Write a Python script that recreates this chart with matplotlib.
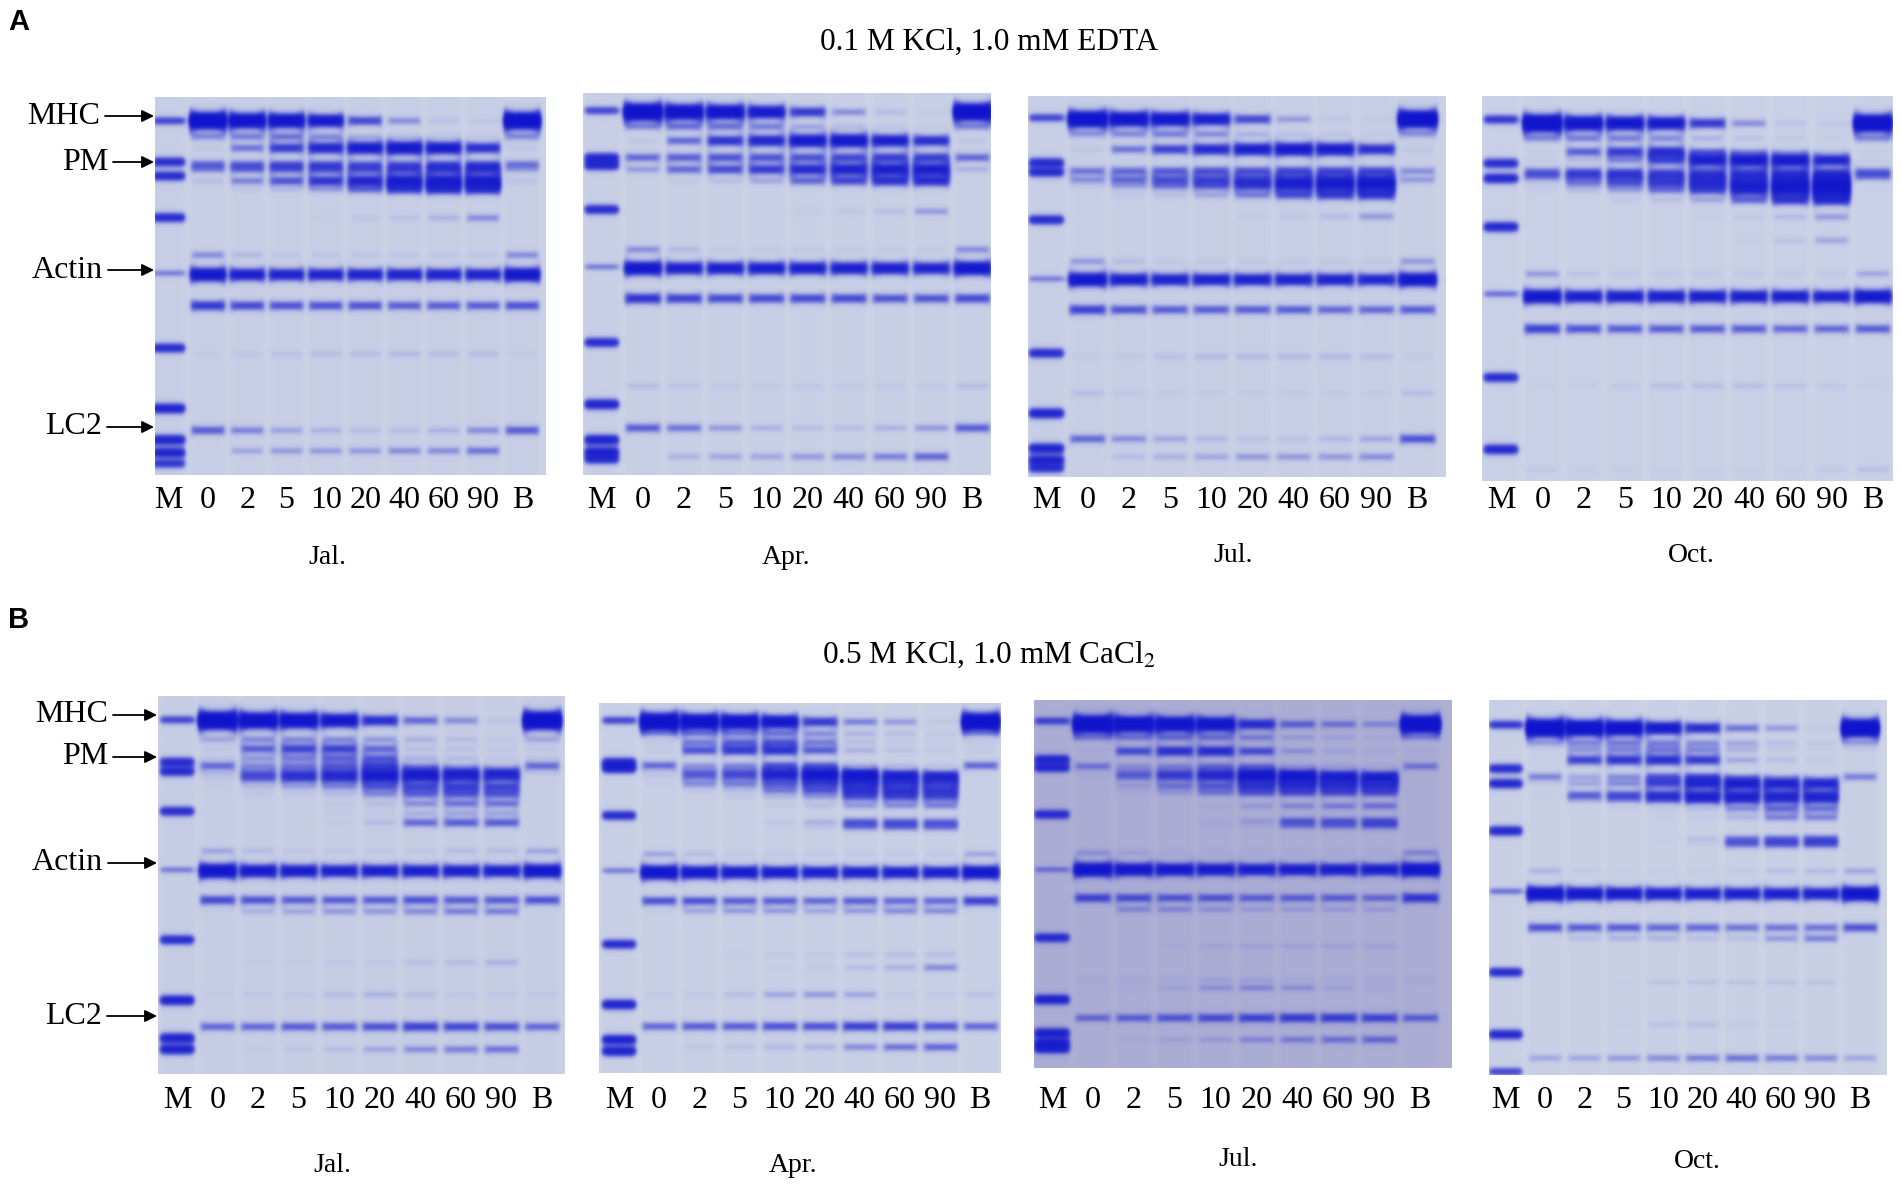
import numpy as np
import matplotlib
matplotlib.use("Agg")
import matplotlib.pyplot as plt

W, H = 1901, 1188

# ---------------- data read off the gels ----------------
# band positions are fractions of gel height from the top,
# intensities per sample lane: 0, 2, 5, 10, 20, 40, 60, 90 min, B
lane_names = ["M", "0", "2", "5", "10", "20", "40", "60", "90", "B"]
months = ["Jal.", "Apr.", "Jul.", "Oct."]
titles = ["0.1 M KCl, 1.0 mM EDTA", "0.5 M KCl, 1.0 mM CaCl$_2$"]
protein_names = ["MHC", "PM", "Actin", "LC2"]

# --- A: 0.1 M KCl, 1.0 mM EDTA ---
a_jal_pos = [0.063, 0.105, 0.135, 0.178, 0.192, 0.222, 0.245, 0.32, 0.418, 0.47, 0.552, 0.68, 0.882, 0.936]
a_jal_int = [
    [1.6, 1.4, 1.3, 1.1, 0.6, 0.3, 0.08, 0.05, 1.6],
    [0.3, 0.35, 0.4, 0.3, 0.15, 0.08, 0.05, 0.03, 0.3],
    [0.05, 0.4, 0.7, 0.9, 1.05, 1.15, 1.05, 0.8, 0.05],
    [0.45, 0.45, 0.5, 0.5, 0.45, 0.45, 0.5, 0.5, 0.4],
    [0.3, 0.4, 0.45, 0.5, 0.5, 0.55, 0.6, 0.65, 0.2],
    [0.1, 0.35, 0.55, 0.75, 0.9, 1.05, 1.05, 1.05, 0.08],
    [0.0, 0.05, 0.1, 0.2, 0.4, 0.6, 0.7, 0.7, 0.0],
    [0.0, 0.0, 0.0, 0.02, 0.05, 0.08, 0.15, 0.3, 0.0],
    [0.3, 0.12, 0.06, 0.06, 0.06, 0.06, 0.06, 0.06, 0.3],
    [1.2, 1.0, 0.95, 0.95, 0.95, 0.95, 0.95, 0.95, 1.2],
    [0.7, 0.6, 0.55, 0.55, 0.55, 0.5, 0.5, 0.5, 0.55],
    [0.03, 0.05, 0.08, 0.1, 0.1, 0.12, 0.1, 0.1, 0.03],
    [0.5, 0.35, 0.22, 0.15, 0.1, 0.1, 0.15, 0.3, 0.5],
    [0.0, 0.2, 0.25, 0.25, 0.25, 0.3, 0.3, 0.4, 0.0],
]
a_jal_mpos = [0.063, 0.172, 0.209, 0.319, 0.466, 0.664, 0.824, 0.907, 0.941, 0.97]
a_jal_mint = [0.6, 0.8, 0.8, 0.8, 0.35, 0.8, 0.9, 0.9, 0.9, 0.7]

a_apr_pos = [0.05, 0.088, 0.125, 0.169, 0.2, 0.23, 0.31, 0.41, 0.459, 0.538, 0.767, 0.877, 0.952]
a_apr_int = [
    [1.6, 1.4, 1.3, 1.1, 0.7, 0.3, 0.1, 0.03, 1.6],
    [0.3, 0.4, 0.4, 0.35, 0.2, 0.1, 0.05, 0.03, 0.3],
    [0.05, 0.45, 0.75, 0.9, 1.1, 1.15, 1.0, 0.8, 0.05],
    [0.45, 0.5, 0.55, 0.55, 0.55, 0.6, 0.65, 0.65, 0.45],
    [0.25, 0.45, 0.6, 0.7, 0.85, 0.95, 1.0, 1.0, 0.15],
    [0.0, 0.05, 0.1, 0.2, 0.45, 0.6, 0.75, 0.8, 0.0],
    [0.0, 0.0, 0.0, 0.0, 0.03, 0.05, 0.1, 0.25, 0.0],
    [0.3, 0.12, 0.05, 0.05, 0.05, 0.05, 0.05, 0.05, 0.3],
    [1.2, 1.0, 1.0, 1.0, 1.0, 1.0, 1.0, 0.95, 1.2],
    [0.75, 0.65, 0.6, 0.6, 0.6, 0.6, 0.55, 0.55, 0.6],
    [0.1, 0.08, 0.05, 0.05, 0.05, 0.05, 0.05, 0.05, 0.1],
    [0.5, 0.4, 0.25, 0.15, 0.1, 0.1, 0.15, 0.25, 0.5],
    [0.0, 0.15, 0.2, 0.2, 0.25, 0.3, 0.35, 0.45, 0.0],
]
a_apr_mpos = [0.046, 0.169, 0.19, 0.305, 0.455, 0.653, 0.815, 0.908, 0.94, 0.96]
a_apr_mint = [0.6, 0.8, 0.8, 0.8, 0.35, 0.8, 0.9, 0.9, 0.9, 0.7]

a_jul_pos = [0.061, 0.10, 0.14, 0.197, 0.22, 0.237, 0.26, 0.316, 0.434, 0.482, 0.561, 0.684, 0.78, 0.9, 0.947]
a_jul_int = [
    [1.5, 1.3, 1.2, 1.0, 0.6, 0.25, 0.05, 0.03, 1.6],
    [0.25, 0.3, 0.35, 0.3, 0.15, 0.08, 0.05, 0.03, 0.25],
    [0.05, 0.4, 0.65, 0.85, 1.0, 1.1, 1.05, 0.8, 0.05],
    [0.4, 0.45, 0.5, 0.55, 0.55, 0.6, 0.6, 0.6, 0.3],
    [0.3, 0.45, 0.55, 0.6, 0.65, 0.7, 0.75, 0.75, 0.25],
    [0.05, 0.2, 0.35, 0.45, 0.6, 0.75, 0.8, 0.85, 0.0],
    [0.0, 0.05, 0.1, 0.2, 0.35, 0.55, 0.65, 0.7, 0.0],
    [0.0, 0.0, 0.0, 0.0, 0.03, 0.05, 0.1, 0.25, 0.0],
    [0.25, 0.1, 0.05, 0.05, 0.05, 0.05, 0.05, 0.05, 0.25],
    [1.2, 1.0, 0.95, 0.95, 0.95, 0.95, 0.95, 0.9, 1.2],
    [0.65, 0.55, 0.5, 0.5, 0.5, 0.5, 0.45, 0.45, 0.5],
    [0.03, 0.05, 0.08, 0.12, 0.12, 0.12, 0.12, 0.1, 0.03],
    [0.1, 0.05, 0.03, 0.03, 0.03, 0.03, 0.03, 0.03, 0.1],
    [0.45, 0.3, 0.2, 0.12, 0.08, 0.08, 0.12, 0.2, 0.55],
    [0.0, 0.1, 0.15, 0.2, 0.25, 0.25, 0.25, 0.3, 0.0],
]
a_jul_mpos = [0.057, 0.175, 0.2, 0.325, 0.48, 0.675, 0.833, 0.925, 0.956, 0.978]
a_jul_mint = [0.6, 0.8, 0.8, 0.8, 0.35, 0.8, 0.9, 0.9, 0.9, 0.7]

a_oct_pos = [0.071, 0.11, 0.145, 0.167, 0.197, 0.21, 0.227, 0.245, 0.27, 0.314, 0.375, 0.462, 0.521, 0.605, 0.753, 0.97]
a_oct_int = [
    [1.6, 1.3, 1.2, 1.1, 0.7, 0.3, 0.08, 0.05, 1.6],
    [0.3, 0.35, 0.35, 0.3, 0.15, 0.08, 0.05, 0.03, 0.3],
    [0.03, 0.5, 0.7, 0.8, 0.4, 0.2, 0.1, 0.05, 0.03],
    [0.03, 0.1, 0.3, 0.6, 1.0, 1.1, 1.1, 0.9, 0.03],
    [0.45, 0.5, 0.5, 0.45, 0.45, 0.45, 0.45, 0.45, 0.45],
    [0.35, 0.45, 0.5, 0.5, 0.55, 0.55, 0.6, 0.65, 0.35],
    [0.05, 0.35, 0.5, 0.6, 0.7, 0.7, 0.75, 0.8, 0.0],
    [0.03, 0.1, 0.2, 0.35, 0.55, 0.8, 0.9, 1.0, 0.0],
    [0.0, 0.0, 0.05, 0.1, 0.2, 0.45, 0.7, 0.8, 0.0],
    [0.0, 0.0, 0.0, 0.0, 0.02, 0.05, 0.12, 0.25, 0.0],
    [0.0, 0.0, 0.0, 0.0, 0.0, 0.02, 0.08, 0.2, 0.0],
    [0.25, 0.08, 0.05, 0.05, 0.05, 0.05, 0.05, 0.05, 0.2],
    [1.2, 1.0, 1.0, 1.0, 1.0, 1.0, 1.0, 0.95, 1.15],
    [0.65, 0.55, 0.5, 0.5, 0.5, 0.5, 0.45, 0.45, 0.5],
    [0.02, 0.03, 0.05, 0.1, 0.1, 0.1, 0.08, 0.05, 0.02],
    [0.05, 0.03, 0.03, 0.02, 0.02, 0.02, 0.02, 0.05, 0.1],
]
a_oct_mpos = [0.061, 0.175, 0.214, 0.34, 0.514, 0.731, 0.918]
a_oct_mint = [0.7, 0.8, 0.85, 0.85, 0.4, 0.8, 0.85]

# --- B: 0.5 M KCl, 1.0 mM CaCl2 ---
b_jal_pos = [0.065, 0.115, 0.14, 0.165, 0.185, 0.205, 0.22, 0.24, 0.26, 0.285, 0.31, 0.335,
             0.41, 0.463, 0.54, 0.57, 0.705, 0.79, 0.875, 0.935]
b_jal_int = [
    [1.7, 1.5, 1.4, 1.2, 0.8, 0.45, 0.3, 0.05, 1.7],
    [0.2, 0.3, 0.3, 0.3, 0.25, 0.15, 0.1, 0.05, 0.2],
    [0.05, 0.5, 0.65, 0.65, 0.45, 0.1, 0.08, 0.05, 0.05],
    [0.05, 0.25, 0.35, 0.45, 0.5, 0.15, 0.1, 0.05, 0.05],
    [0.45, 0.3, 0.35, 0.45, 0.55, 0.2, 0.1, 0.05, 0.45],
    [0.1, 0.5, 0.6, 0.65, 0.8, 1.0, 0.95, 0.9, 0.05],
    [0.05, 0.4, 0.5, 0.55, 0.6, 0.35, 0.3, 0.25, 0.0],
    [0.02, 0.1, 0.2, 0.3, 0.5, 0.6, 0.65, 0.6, 0.0],
    [0.0, 0.05, 0.05, 0.1, 0.3, 0.45, 0.5, 0.5, 0.0],
    [0.0, 0.0, 0.0, 0.05, 0.1, 0.3, 0.4, 0.4, 0.0],
    [0.0, 0.0, 0.0, 0.03, 0.05, 0.15, 0.2, 0.2, 0.0],
    [0.0, 0.0, 0.0, 0.03, 0.1, 0.45, 0.5, 0.5, 0.0],
    [0.2, 0.1, 0.05, 0.05, 0.05, 0.05, 0.1, 0.1, 0.2],
    [1.3, 1.1, 1.05, 1.0, 1.0, 1.0, 1.0, 1.0, 1.2],
    [0.6, 0.55, 0.5, 0.5, 0.5, 0.55, 0.5, 0.5, 0.55],
    [0.02, 0.15, 0.2, 0.25, 0.25, 0.3, 0.35, 0.35, 0.0],
    [0.0, 0.02, 0.02, 0.05, 0.05, 0.08, 0.1, 0.15, 0.0],
    [0.02, 0.05, 0.05, 0.1, 0.15, 0.1, 0.05, 0.05, 0.05],
    [0.45, 0.45, 0.5, 0.5, 0.55, 0.65, 0.6, 0.55, 0.45],
    [0.0, 0.03, 0.05, 0.1, 0.2, 0.3, 0.35, 0.4, 0.0],
]
b_jal_mpos = [0.063, 0.175, 0.2, 0.305, 0.46, 0.645, 0.805, 0.905, 0.935]
b_jal_mint = [0.6, 0.8, 0.8, 0.8, 0.35, 0.8, 0.9, 0.9, 0.9]

b_apr_pos = [0.051, 0.083, 0.106, 0.128, 0.169, 0.187, 0.2, 0.219, 0.237, 0.255, 0.277, 0.322, 0.336,
             0.408, 0.458, 0.535, 0.562, 0.68, 0.715, 0.788, 0.874, 0.93]
b_apr_int = [
    [1.7, 1.5, 1.4, 1.2, 0.7, 0.35, 0.25, 0.05, 1.7],
    [0.2, 0.3, 0.3, 0.35, 0.3, 0.15, 0.1, 0.05, 0.2],
    [0.05, 0.35, 0.45, 0.5, 0.35, 0.1, 0.05, 0.03, 0.05],
    [0.03, 0.55, 0.7, 0.75, 0.5, 0.15, 0.08, 0.05, 0.03],
    [0.45, 0.25, 0.3, 0.5, 0.45, 0.15, 0.1, 0.05, 0.45],
    [0.05, 0.4, 0.45, 0.6, 0.65, 0.45, 0.2, 0.1, 0.0],
    [0.05, 0.35, 0.4, 0.6, 0.8, 1.0, 0.95, 0.9, 0.0],
    [0.03, 0.3, 0.35, 0.45, 0.5, 0.45, 0.4, 0.4, 0.0],
    [0.0, 0.05, 0.1, 0.35, 0.5, 0.7, 0.7, 0.65, 0.0],
    [0.0, 0.0, 0.05, 0.1, 0.2, 0.45, 0.5, 0.5, 0.0],
    [0.0, 0.0, 0.0, 0.05, 0.1, 0.25, 0.3, 0.35, 0.0],
    [0.0, 0.0, 0.0, 0.05, 0.15, 0.5, 0.5, 0.45, 0.0],
    [0.0, 0.0, 0.0, 0.02, 0.05, 0.3, 0.35, 0.35, 0.0],
    [0.2, 0.1, 0.05, 0.05, 0.05, 0.05, 0.05, 0.05, 0.2],
    [1.3, 1.15, 1.1, 1.05, 1.0, 1.0, 1.0, 1.0, 1.2],
    [0.55, 0.55, 0.5, 0.5, 0.45, 0.5, 0.45, 0.45, 0.65],
    [0.02, 0.2, 0.25, 0.25, 0.2, 0.25, 0.3, 0.3, 0.0],
    [0.0, 0.0, 0.02, 0.05, 0.05, 0.08, 0.1, 0.1, 0.0],
    [0.0, 0.0, 0.0, 0.02, 0.05, 0.1, 0.15, 0.3, 0.0],
    [0.05, 0.05, 0.1, 0.2, 0.25, 0.2, 0.05, 0.05, 0.08],
    [0.45, 0.5, 0.5, 0.55, 0.55, 0.65, 0.65, 0.55, 0.45],
    [0.0, 0.05, 0.08, 0.12, 0.15, 0.3, 0.4, 0.45, 0.0],
]
b_apr_mpos = [0.047, 0.16, 0.178, 0.304, 0.453, 0.652, 0.815, 0.91, 0.941]
b_apr_mint = [0.6, 0.8, 0.8, 0.8, 0.35, 0.8, 0.9, 0.9, 0.9]

b_jul_pos = [0.066, 0.102, 0.139, 0.18, 0.198, 0.211, 0.234, 0.252, 0.288, 0.329, 0.343,
             0.415, 0.461, 0.538, 0.569, 0.669, 0.76, 0.782, 0.864, 0.923]
b_jul_int = [
    [1.7, 1.5, 1.4, 1.3, 0.8, 0.45, 0.35, 0.25, 1.7],
    [0.25, 0.3, 0.35, 0.35, 0.3, 0.15, 0.1, 0.05, 0.2],
    [0.05, 0.55, 0.75, 0.8, 0.55, 0.2, 0.1, 0.05, 0.05],
    [0.35, 0.2, 0.25, 0.35, 0.35, 0.15, 0.1, 0.05, 0.35],
    [0.03, 0.35, 0.45, 0.55, 0.6, 0.4, 0.2, 0.1, 0.0],
    [0.03, 0.3, 0.45, 0.55, 0.85, 1.0, 0.95, 0.95, 0.0],
    [0.02, 0.15, 0.35, 0.45, 0.6, 0.6, 0.6, 0.6, 0.0],
    [0.0, 0.05, 0.15, 0.3, 0.45, 0.5, 0.5, 0.5, 0.0],
    [0.0, 0.0, 0.0, 0.05, 0.15, 0.25, 0.3, 0.35, 0.0],
    [0.0, 0.0, 0.0, 0.05, 0.15, 0.45, 0.45, 0.5, 0.0],
    [0.0, 0.0, 0.0, 0.03, 0.05, 0.25, 0.3, 0.35, 0.0],
    [0.2, 0.1, 0.05, 0.05, 0.05, 0.05, 0.05, 0.05, 0.25],
    [1.3, 1.15, 1.1, 1.05, 1.0, 1.0, 1.0, 1.0, 1.25],
    [0.6, 0.55, 0.5, 0.5, 0.45, 0.45, 0.45, 0.4, 0.7],
    [0.0, 0.25, 0.25, 0.2, 0.15, 0.15, 0.15, 0.15, 0.0],
    [0.0, 0.0, 0.03, 0.08, 0.1, 0.1, 0.1, 0.1, 0.0],
    [0.05, 0.05, 0.05, 0.1, 0.1, 0.05, 0.05, 0.05, 0.05],
    [0.02, 0.03, 0.1, 0.2, 0.25, 0.2, 0.1, 0.05, 0.0],
    [0.4, 0.45, 0.5, 0.55, 0.6, 0.65, 0.65, 0.6, 0.45],
    [0.0, 0.05, 0.1, 0.15, 0.25, 0.3, 0.35, 0.4, 0.0],
]
b_jul_mpos = [0.057, 0.161, 0.184, 0.311, 0.461, 0.646, 0.814, 0.905, 0.932, 0.95]
b_jul_mint = [0.6, 0.8, 0.8, 0.8, 0.35, 0.8, 0.9, 0.9, 0.9, 0.7]

b_oct_pos = [0.075, 0.115, 0.133, 0.16, 0.205, 0.223, 0.254, 0.268, 0.29, 0.313, 0.371, 0.385,
             0.456, 0.517, 0.607, 0.636, 0.753, 0.865, 0.955]
b_oct_int = [
    [1.7, 1.5, 1.4, 1.1, 0.8, 0.4, 0.25, 0.05, 1.7],
    [0.2, 0.3, 0.35, 0.35, 0.3, 0.2, 0.1, 0.05, 0.2],
    [0.03, 0.25, 0.3, 0.35, 0.3, 0.15, 0.05, 0.03, 0.05],
    [0.03, 0.65, 0.75, 0.8, 0.7, 0.2, 0.1, 0.05, 0.03],
    [0.35, 0.2, 0.3, 0.5, 0.5, 0.2, 0.1, 0.05, 0.35],
    [0.05, 0.2, 0.3, 0.6, 0.85, 1.0, 0.95, 0.9, 0.0],
    [0.03, 0.5, 0.6, 0.75, 0.8, 0.75, 0.75, 0.75, 0.0],
    [0.0, 0.1, 0.2, 0.3, 0.45, 0.5, 0.45, 0.45, 0.0],
    [0.0, 0.0, 0.03, 0.05, 0.1, 0.3, 0.45, 0.4, 0.0],
    [0.0, 0.0, 0.0, 0.03, 0.05, 0.15, 0.35, 0.35, 0.0],
    [0.0, 0.0, 0.0, 0.02, 0.1, 0.4, 0.45, 0.5, 0.0],
    [0.0, 0.0, 0.0, 0.0, 0.03, 0.4, 0.45, 0.45, 0.0],
    [0.15, 0.05, 0.03, 0.03, 0.03, 0.05, 0.1, 0.12, 0.2],
    [1.3, 1.15, 1.1, 1.05, 1.0, 1.0, 1.0, 1.0, 1.3],
    [0.55, 0.5, 0.5, 0.45, 0.45, 0.4, 0.4, 0.4, 0.55],
    [0.0, 0.1, 0.15, 0.15, 0.1, 0.1, 0.25, 0.35, 0.0],
    [0.0, 0.0, 0.02, 0.08, 0.08, 0.08, 0.08, 0.08, 0.0],
    [0.0, 0.0, 0.03, 0.08, 0.1, 0.05, 0.03, 0.0, 0.0],
    [0.2, 0.2, 0.25, 0.3, 0.35, 0.4, 0.35, 0.3, 0.2],
]
b_oct_mpos = [0.066, 0.183, 0.223, 0.349, 0.51, 0.726, 0.892, 0.991]
b_oct_mint = [0.7, 0.8, 0.85, 0.85, 0.4, 0.8, 0.85, 0.6]

gels = [
    (a_jal_pos, a_jal_int, a_jal_mpos, a_jal_mint),
    (a_apr_pos, a_apr_int, a_apr_mpos, a_apr_mint),
    (a_jul_pos, a_jul_int, a_jul_mpos, a_jul_mint),
    (a_oct_pos, a_oct_int, a_oct_mpos, a_oct_mint),
    (b_jal_pos, b_jal_int, b_jal_mpos, b_jal_mint),
    (b_apr_pos, b_apr_int, b_apr_mpos, b_apr_mint),
    (b_jul_pos, b_jul_int, b_jul_mpos, b_jul_mint),
    (b_oct_pos, b_oct_int, b_oct_mpos, b_oct_mint),
]

# ---------------- layout (figure pixels) ----------------
# gel box: x0, y0, x1, y1 ; first lane centre, lane step (fractions of gel width)
gel_boxes = [
    (155, 97, 546, 475), (583, 93, 990, 475), (1028, 96, 1445, 477), (1482, 96, 1893, 481),
    (158, 696, 564, 1074), (599, 703, 1000, 1073), (1034, 700, 1451, 1068), (1489, 700, 1886, 1075),
]
lane_grid = [
    (0.035, 0.1005), (0.046, 0.101), (0.044, 0.0987), (0.046, 0.1006),
    (0.047, 0.0997), (0.05, 0.100), (0.043, 0.098), (0.042, 0.099),
]
gel_bg = ["#cbd2e6", "#ccd3e6", "#cbd2e6", "#cdd4e7",
          "#cad1e5", "#ccd3e6", "#aeb0d5", "#cdd4e6"]
dark = np.array([0.06, 0.08, 0.80])
title_y = [42, 655]
lane_label_y = [500, 1101]
month_xy = [[(327, 558), (786, 558), (1233, 556), (1691, 556)],
            [(332, 1166), (793, 1166), (1238, 1159), (1697, 1161)]]
side_label_y = [[116, 162, 270, 427], [715, 757, 863, 1016]]
side_text_x = [[100, 108, 103, 102], [108, 108, 103, 102]]

plt.rcParams['font.family'] = ['Liberation Serif', 'DejaVu Serif']
plt.rcParams['mathtext.fontset'] = 'stix'


def edge(x, c, hw, s=0.008):
    return 0.5 * (np.tanh((x - (c - hw)) / s) - np.tanh((x - (c + hw)) / s))


def band_sigma(v):
    return 0.006 + 0.0055 * v


def render(pos, inten, mpos, mint, lane0, step, bg, wpx, hpx):
    x = (np.arange(wpx) + 0.5) / wpx
    y = ((np.arange(hpx) + 0.5) / hpx)[:, None]
    dens = np.zeros((hpx, wpx))
    centres = lane0 + step * np.arange(len(lane_names))
    hw = 0.042
    # marker lane
    hx = edge(x, centres[0], hw)
    dens += 0.08 * hx
    for p, v in zip(mpos, mint):
        sig = 0.005 + 0.006 * v
        dens += v * np.exp(-0.5 * ((y - p) / sig) ** 2) * hx
    # sample lanes
    for j in range(len(lane_names) - 1):
        c = centres[j + 1]
        hx = edge(x, c, hw)
        dens += 0.08 * hx
        for p, row in zip(pos, inten):
            v = row[j]
            if v <= 0:
                continue
            hxb = edge(x, c, hw * (1 + 0.07 * min(v, 1.7)))
            # bands get a little thicker toward the lane edges
            fat = 1 + 0.3 * ((x - c) / hw) ** 4
            sig = band_sigma(v) * np.clip(fat, 1, 1.4)
            dens += v * np.exp(-0.5 * ((y - p) / sig) ** 2) * hxb
    a = 1 - np.exp(-2.4 * dens ** 1.8)
    bgc = np.array(matplotlib.colors.to_rgb(bg))
    img = bgc[None, None, :] * (1 - a[..., None]) + dark[None, None, :] * a[..., None]
    return np.clip(img, 0, 1)


fig = plt.figure(figsize=(W / 100, H / 100), dpi=100)
base = fig.add_axes([0, 0, 1, 1])
base.set_xlim(0, W)
base.set_ylim(H, 0)
base.axis('off')

base.text(8, 22, "A", fontsize=21, fontweight='bold', family='Liberation Sans', va='center', ha='left')
base.text(8, 620, "B", fontsize=21, fontweight='bold', family='Liberation Sans', va='center', ha='left')

for r in range(2):
    base.text(989, title_y[r], titles[r], fontsize=22.5, ha='center', va='center')
    for name, yy, tx in zip(protein_names, side_label_y[r], side_text_x[r]):
        base.text(tx, yy, name, fontsize=23, ha='right', va='center')
        base.annotate("", xy=(gel_boxes[r * 4][0] - 1, yy), xytext=(tx + 5, yy),
                      arrowprops=dict(arrowstyle='-|>', color='black', lw=1.3,
                                      mutation_scale=18, shrinkA=0, shrinkB=0))
    for k in range(4):
        mx, my = month_xy[r][k]
        base.text(mx, my, months[k], fontsize=20, ha='center', va='center')

for g, (pos, inten, mpos, mint) in enumerate(gels):
    x0, y0, x1, y1 = gel_boxes[g]
    lane0, step = lane_grid[g]
    img = render(pos, inten, mpos, mint, lane0, step, gel_bg[g], x1 - x0, y1 - y0)
    ax = fig.add_axes([x0 / W, 1 - y1 / H, (x1 - x0) / W, (y1 - y0) / H])
    ax.imshow(img, extent=[0, 1, 1, 0], aspect='auto', interpolation='bilinear')
    ax.set_xlim(0, 1)
    ax.set_ylim(1, 0)
    ax.axis('off')
    r = g // 4
    for i, lab in enumerate(lane_names):
        cx = x0 + (lane0 + step * i) * (x1 - x0)
        base.text(cx, lane_label_y[r], lab, fontsize=23, ha='center', va='center')

fig.savefig("out.png", dpi=100)
